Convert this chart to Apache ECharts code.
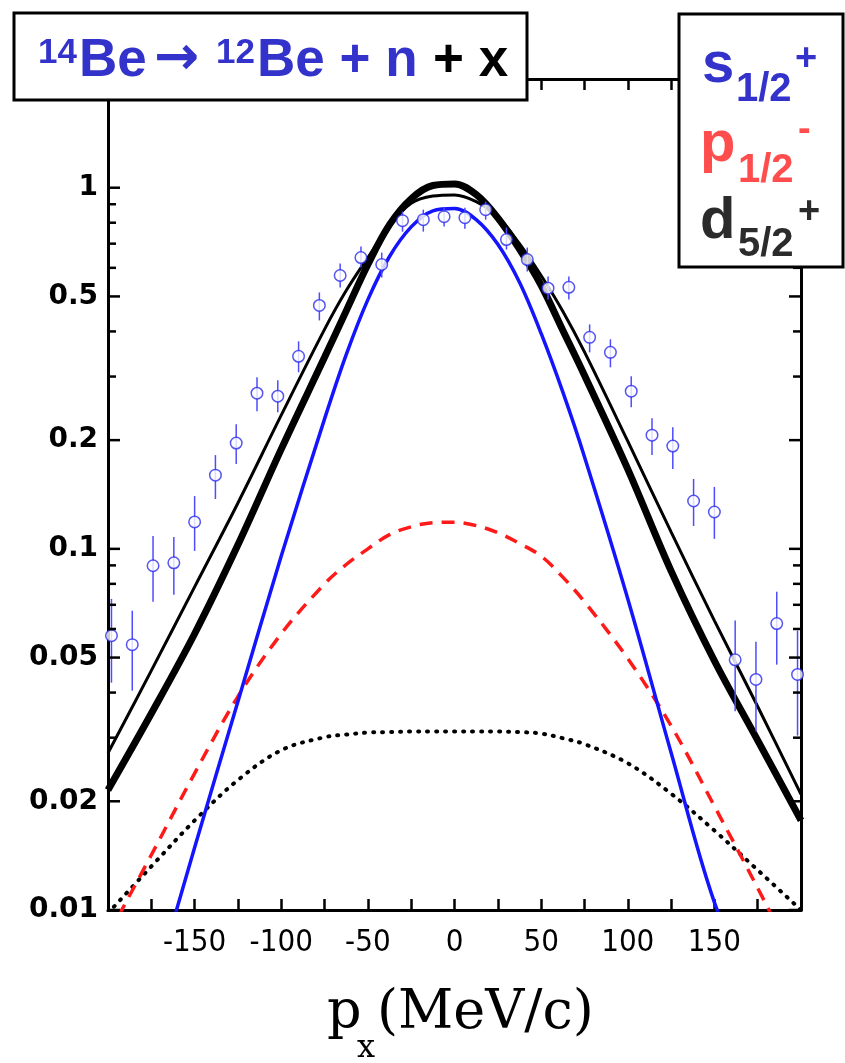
<!DOCTYPE html>
<html><head><meta charset="utf-8">
<script src="https://cdn.jsdelivr.net/npm/echarts@6/dist/echarts.min.js"></script>
<style>html,body{margin:0;padding:0;background:#fff}#c{width:845px;height:1063px}</style>
</head><body><div id="c"></div>
<script>
// ---- model curves ----
const curveX = [-200,-175,-150,-125,-100,-75,-62.5,-50,-37.5,-25,-12.5,0,12.5,25,37.5,50,62.5,75,100,125,150,175,200];
const totalThick = [0.0215,0.0350,0.0582,0.1026,0.1889,0.3391,0.456,0.6128,0.79,0.932,1.014,1.024,0.957,0.825,0.676,0.537,0.403,0.3025,0.1663,0.0869,0.0490,0.0295,0.0177];
const totalThin  = [0.0272,0.0460,0.0785,0.134,0.2345,0.4052,0.519,0.6407,0.785,0.905,0.948,0.955,0.915,0.83,0.70,0.5713,0.455,0.351,0.1987,0.1114,0.0633,0.0366,0.0209];
const sWave = [0.0021,0.0057,0.0149,0.0378,0.0955,0.229,0.345,0.490,0.645,0.779,0.863,0.876,0.816,0.697,0.547,0.395,0.272,0.180,0.0728,0.0273,0.0105,0.0055,0.0021];
const pWave = [0.0085,0.0142,0.0239,0.0390,0.0582,0.0800,0.0905,0.1000,0.1095,0.1151,0.1182,0.1185,0.1160,0.1108,0.1035,0.0955,0.0835,0.0714,0.0497,0.0324,0.0194,0.0115,0.0067];
const dWave = [0.0098,0.0132,0.0177,0.0229,0.0277,0.0301,0.0306,0.0310,0.0311,0.0312,0.0312,0.0312,0.0312,0.0312,0.0311,0.0308,0.0299,0.0288,0.0255,0.0210,0.0166,0.0129,0.0100];

// ---- measured data ----
const dataX = [-198,-186,-174,-162,-150,-138,-126,-114,-102,-90,-78,-66,-54,-42,-30,-18,-6,6,18,30,42,54,66,78,90,102,114,126,138,150,162,174,186,198];
const dataY = [0.0575,0.0543,0.0898,0.0915,0.1187,0.160,0.1963,0.2698,0.2647,0.3413,0.472,0.5713,0.6407,0.6128,0.8106,0.8158,0.8315,0.8262,0.8695,0.7184,0.6326,0.527,0.530,0.3852,0.35,0.2733,0.2065,0.1926,0.1357,0.1265,0.0493,0.0435,0.0621,0.0449];
const errLow = [0.0426,0.0405,0.0714,0.0746,0.0987,0.1374,0.1717,0.2405,0.239,0.3083,0.4291,0.5293,0.6012,0.5641,0.7557,0.7557,0.7804,0.7704,0.8158,0.674,0.5861,0.4904,0.4904,0.35,0.3182,0.2467,0.1818,0.1663,0.1157,0.1066,0.0355,0.0312,0.0478,0.0304];
const errHigh = [0.0727,0.0674,0.1086,0.1079,0.140,0.1818,0.2215,0.2987,0.2931,0.3756,0.5128,0.6165,0.6871,0.6613,0.8585,0.8695,0.8807,0.8807,0.9148,0.7754,0.6828,0.5676,0.5676,0.4183,0.3803,0.3005,0.2301,0.2173,0.1561,0.1484,0.0633,0.0553,0.0761,0.0594];

// ---- ticks ----
const xTickLabels = [-150,-100,-50,0,50,100,150];
const yMajorTicks = [0.01,0.02,0.05,0.1,0.2,0.5,1];
const yTickLabels = ['0.01','0.02','0.05','0.1','0.2','0.5','1'];
const yMinorTicks = [0.03,0.04,0.06,0.07,0.08,0.09,0.3,0.4,0.6,0.7,0.8,0.9];

const chart = echarts.init(document.getElementById('c'), null, {renderer:'canvas'});

function pairs(arr){ return curveX.map((x,i)=>[x, arr[i]]); }

const tickData = yMajorTicks.map((v,i)=>[-200, v, 1, i]).concat(yMinorTicks.map(v=>[-200, v, 0, -1]));

const axisLineStyle = {color:'#000', width:3};
const titleBlue = '#3333cc';
const sansB = '"Liberation Sans", Arial, sans-serif';
const SM = 0.35;

const option = {
  animation: false,
  backgroundColor: '#fff',
  grid: {left:108, right:44, top:79, bottom:153, containLabel:false},
  xAxis: [
    {type:'value', min:-200, max:200, interval:25, position:'bottom',
     axisLine:{show:true, onZero:false, lineStyle:axisLineStyle},
     axisTick:{show:true, inside:true, length:11, lineStyle:{color:'#000', width:2.5}},
     axisLabel:{show:true, margin:17, color:'#000', fontSize:31,
       fontFamily:'"DejaVu Sans Condensed", "Liberation Sans Narrow", "DejaVu Sans", sans-serif',
       formatter: v => xTickLabels.includes(v) ? String(v) : ''},
     splitLine:{show:false}},
    {type:'value', min:-200, max:200, interval:25, position:'top',
     axisLine:{show:true, onZero:false, lineStyle:axisLineStyle},
     axisTick:{show:true, inside:true, length:11, lineStyle:{color:'#000', width:2.5}},
     axisLabel:{show:false}, splitLine:{show:false}}
  ],
  yAxis: [
    {type:'log', logBase:10, min:0.01, max:2, position:'left',
     axisLine:{show:true, onZero:false, lineStyle:axisLineStyle},
     axisTick:{show:false}, axisLabel:{show:false}, splitLine:{show:false}, minorTick:{show:false}},
    {type:'log', logBase:10, min:0.01, max:2, position:'right',
     axisLine:{show:true, onZero:false, lineStyle:axisLineStyle},
     axisTick:{show:false}, axisLabel:{show:false}, splitLine:{show:false}}
  ],
  series: [
    {type:'line', name:'d52', data:pairs(dWave), showSymbol:false, smooth:SM, clip:true, z:2,
     lineStyle:{color:'#000', width:4, type:[1,8], cap:'round'}},
    {type:'line', name:'p12', data:pairs(pWave), showSymbol:false, smooth:SM, clip:true, z:3,
     lineStyle:{color:'#ff1a1a', width:3.5, type:[13,9]}},
    {type:'line', name:'s12', data:pairs(sWave), showSymbol:false, smooth:SM, clip:true, z:4,
     lineStyle:{color:'#1414ff', width:3.5}},
    {type:'line', name:'thin', data:pairs(totalThin), showSymbol:false, smooth:SM, clip:true, z:5,
     lineStyle:{color:'#000', width:3}},
    {type:'line', name:'thick', data:pairs(totalThick), showSymbol:false, smooth:SM, clip:true, z:6,
     lineStyle:{color:'#000', width:7}},
    {type:'custom', name:'err', z:7, clip:true,
     data: dataX.map((x,i)=>[x, dataY[i], errLow[i], errHigh[i]]),
     encode:{x:0, y:1},
     renderItem: (params, api) => {
       const x = api.value(0);
       const lo = api.coord([x, api.value(2)]);
       const hi = api.coord([x, api.value(3)]);
       return {type:'line', shape:{x1:lo[0], y1:lo[1], x2:hi[0], y2:hi[1]},
               style:{stroke:'#4d4dff', lineWidth:1.5}};
     }},
    {type:'scatter', name:'data', z:8, clip:false,
     data: dataX.map((x,i)=>[x, dataY[i]]),
     symbol:'circle', symbolSize:11.5,
     itemStyle:{color:'#fff', borderColor:'#2b2bee', borderWidth:1.5}},
    {type:'custom', name:'yticks', z:9, clip:false,
     data: tickData, encode:{x:0, y:1},
     renderItem: (params, api) => {
       const v = api.value(1);
       const major = api.value(2);
       const idx = api.value(3);
       const pL = api.coord([-200, v]);
       const pR = api.coord([200, v]);
       const len = major ? 12 : 8;
       const children = [
         {type:'line', shape:{x1:pL[0], y1:pL[1], x2:pL[0]+len, y2:pL[1]}, style:{stroke:'#000', lineWidth:2.5}},
         {type:'line', shape:{x1:pR[0], y1:pR[1], x2:pR[0]-len, y2:pR[1]}, style:{stroke:'#000', lineWidth:2.5}}
       ];
       if (idx >= 0) {
         children.push({type:'text', x:pL[0]-10, y:pL[1],
           style:{text:yTickLabels[idx], align:'right', verticalAlign:'middle',
                  font:'bold 28px "DejaVu Sans", sans-serif', fill:'#000'}});
       }
       return {type:'group', children};
     }}
  ],
  graphic: [
    {type:'rect', z:100, shape:{x:14, y:13, width:513, height:87}, style:{fill:'#fff', stroke:'#000', lineWidth:3}},
    {type:'rect', z:100, shape:{x:679, y:14, width:164, height:253}, style:{fill:'#fff', stroke:'#000', lineWidth:3}},
    // title
    {type:'text', z:101, x:38, y:53, style:{text:'14', font:'bold 35px '+sansB, fill:titleBlue, verticalAlign:'middle'}},
    {type:'text', z:101, x:79, y:61.5, style:{text:'Be', font:'bold 53px '+sansB, fill:titleBlue, verticalAlign:'middle'}},
    {type:'text', z:101, x:154, y:60, style:{text:'→', font:'bold 54px "DejaVu Sans", sans-serif', fill:titleBlue, verticalAlign:'middle'}},
    {type:'text', z:101, x:216, y:53, style:{text:'12', font:'bold 35px '+sansB, fill:titleBlue, verticalAlign:'middle'}},
    {type:'text', z:101, x:257, y:61.5, style:{text:'Be + n', font:'bold 53px '+sansB, fill:titleBlue, verticalAlign:'middle'}},
    {type:'text', z:101, x:433, y:61.5, style:{text:'+ x', font:'bold 53px '+sansB, fill:'#000', verticalAlign:'middle'}},
    // legend
    {type:'text', z:101, x:702, y:66, style:{text:'s', font:'bold 58px '+sansB, fill:titleBlue, verticalAlign:'middle'}},
    {type:'text', z:101, x:736, y:90, style:{text:'1/2', font:'bold 40px '+sansB, fill:titleBlue, verticalAlign:'middle'}},
    {type:'text', z:101, x:795, y:60, style:{text:'+', font:'bold 38px '+sansB, fill:titleBlue, verticalAlign:'middle'}},
    {type:'text', z:101, x:700, y:145, style:{text:'p', font:'bold 58px '+sansB, fill:'#ff4d4d', verticalAlign:'middle'}},
    {type:'text', z:101, x:738, y:171, style:{text:'1/2', font:'bold 40px '+sansB, fill:'#ff4d4d', verticalAlign:'middle'}},
    {type:'text', z:101, x:798, y:131, style:{text:'-', font:'bold 38px '+sansB, fill:'#ff4d4d', verticalAlign:'middle'}},
    {type:'text', z:101, x:700, y:222, style:{text:'d', font:'bold 58px '+sansB, fill:'#2b2b2b', verticalAlign:'middle'}},
    {type:'text', z:101, x:738, y:245, style:{text:'5/2', font:'bold 40px '+sansB, fill:'#2b2b2b', verticalAlign:'middle'}},
    {type:'text', z:101, x:798, y:213, style:{text:'+', font:'bold 38px '+sansB, fill:'#2b2b2b', verticalAlign:'middle'}},
    // x-axis title
    {type:'text', z:101, x:327, y:1014, style:{text:'p', font:'54px "DejaVu Serif", serif', fill:'#000', verticalAlign:'middle'}},
    {type:'text', z:101, x:357, y:1049, style:{text:'x', font:'32px "DejaVu Serif", serif', fill:'#000', verticalAlign:'middle'}},
    {type:'text', z:101, x:377, y:1014, style:{text:'(MeV/c)', font:'54px "DejaVu Serif", serif', fill:'#000', verticalAlign:'middle'}}
  ]
};
chart.setOption(option);
</script>
</body></html>
